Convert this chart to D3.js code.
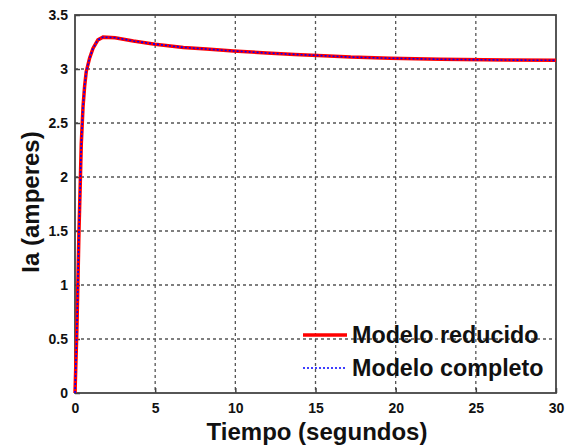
<!DOCTYPE html>
<html><head><meta charset="utf-8">
<script src="https://cdn.jsdelivr.net/npm/d3@7"></script>
<style>body{margin:0;background:#fff;}svg{display:block;}</style>
</head><body>
<script>
const timeS = [0,0.04,0.08,0.12,0.19,0.25,0.33,0.39,0.5,0.6,0.7,0.91,1.12,1.43,1.75,2.5,3.64,4.99,6.76,8.2,9.88,11.96,13.7,15.5,17.2,19.65,22.8,26.9,30];
const reducido = [0,0.2,0.4,0.6,1.09,1.51,1.95,2.3,2.65,2.84,2.975,3.1,3.19,3.27,3.295,3.29,3.26,3.23,3.2,3.185,3.167,3.148,3.135,3.123,3.11,3.1,3.09,3.083,3.08];
const completo = reducido.slice();
const xTicks = [0,5,10,15,20,25,30];
const yTicks = [0,0.5,1,1.5,2,2.5,3,3.5];
const yTickLabels = ["0","0.5","1","1.5","2","2.5","3","3.5"];
const legendLabels = ["Modelo reducido","Modelo completo"];

const W=567,H=446;
const L=75,R=556,T=15,B=393;
const svg=d3.select("body").append("svg").attr("width",W).attr("height",H);
const x=d3.scaleLinear().domain([0,30]).range([L,R]);
const y=d3.scaleLinear().domain([0,3.5]).range([B,T]);
const font="'Liberation Sans', Arial, sans-serif";

// grid
const g=svg.append("g");
g.selectAll(".vg").data(xTicks.slice(1,-1)).enter().append("line")
 .attr("x1",d=>x(d)).attr("x2",d=>x(d)).attr("y1",T).attr("y2",B)
 .attr("stroke","#555").attr("stroke-width",1.3).attr("stroke-dasharray","3,3");
g.selectAll(".hg").data(yTicks.slice(1,-1)).enter().append("line")
 .attr("y1",d=>y(d)).attr("y2",d=>y(d)).attr("x1",L).attr("x2",R)
 .attr("stroke","#555").attr("stroke-width",1.3).attr("stroke-dasharray","3,3");

// axes
const xAx=d3.axisBottom(x).tickValues(xTicks).tickSize(-5).tickSizeOuter(0).tickPadding(10).tickFormat(d3.format("d"));
const yAx=d3.axisLeft(y).tickValues(yTicks).tickSize(-5).tickSizeOuter(0).tickPadding(7).tickFormat((d,i)=>yTickLabels[i]);
const gx=svg.append("g").attr("transform",`translate(0,${B})`).call(xAx);
const gy=svg.append("g").attr("transform",`translate(${L},0)`).call(yAx);
[gx,gy].forEach(a=>{
  a.select(".domain").remove();
  a.selectAll("line").attr("stroke","#444").attr("stroke-width",1.5);
  a.selectAll("text").attr("font-family",font).attr("font-weight","bold").attr("font-size",14).attr("fill","#111");
});
// box
svg.append("rect").attr("x",L).attr("y",T).attr("width",R-L).attr("height",B-T)
 .attr("fill","none").attr("stroke","#444").attr("stroke-width",1.8);

// lines
const line=d3.line().x((d,i)=>x(timeS[i])).y(d=>y(d));
svg.append("path").datum(reducido).attr("d",line).attr("fill","none").attr("stroke","#ff0000").attr("stroke-width",3.5);
svg.append("path").datum(completo).attr("d",line).attr("fill","none").attr("stroke","#0000ff").attr("stroke-width",1.6).attr("stroke-dasharray","2,2");

// legend
const lg=svg.append("g");
lg.append("line").attr("x1",303).attr("x2",347).attr("y1",335).attr("y2",335).attr("stroke","#ff0000").attr("stroke-width",3.5);
lg.append("line").attr("x1",303).attr("x2",347).attr("y1",368).attr("y2",368).attr("stroke","#0000ff").attr("stroke-width",1.6).attr("stroke-dasharray","2,2");
lg.selectAll("text").data(legendLabels).enter().append("text")
 .attr("x",352).attr("y",(d,i)=>343+i*33).text(d=>d)
 .attr("font-family",font).attr("font-weight","bold").attr("font-size",23.3).attr("fill","#111");

// titles
svg.append("text").attr("x",317).attr("y",440).attr("text-anchor","middle").text("Tiempo (segundos)")
 .attr("font-family",font).attr("font-weight","bold").attr("font-size",24).attr("fill","#111");
svg.append("text").attr("transform","translate(39,202) rotate(-90)").attr("text-anchor","middle").text("Ia (amperes)")
 .attr("font-family",font).attr("font-weight","bold").attr("font-size",24).attr("fill","#111");
</script>
</body></html>
